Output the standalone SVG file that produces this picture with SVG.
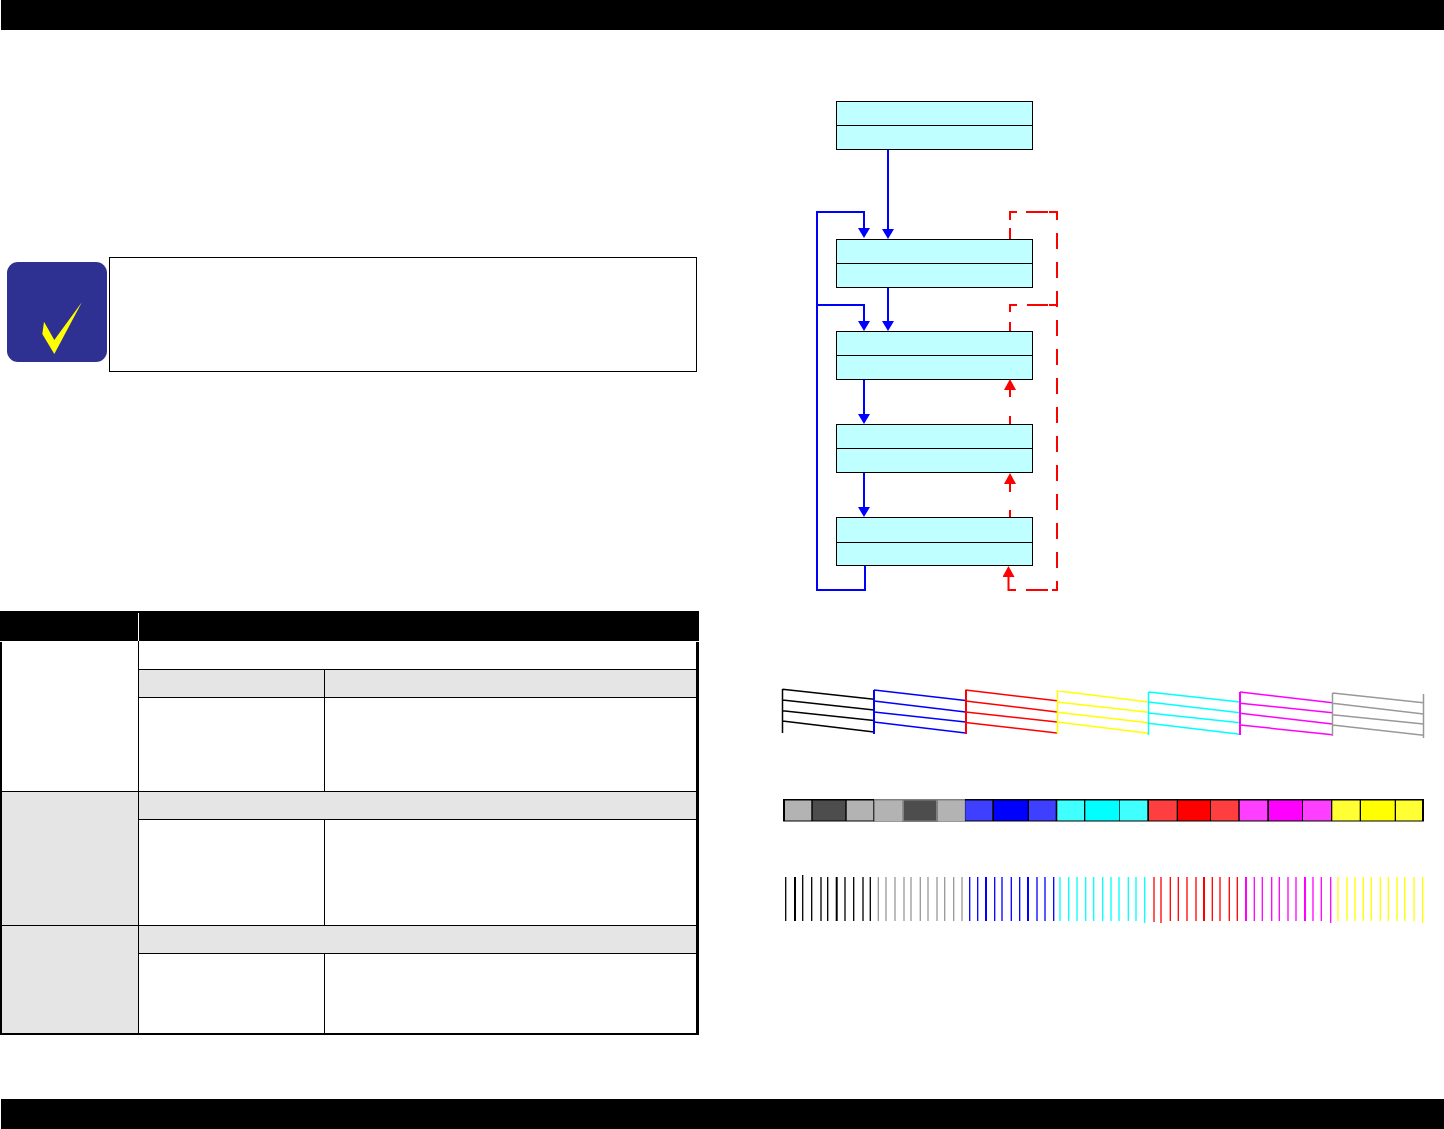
<svg xmlns="http://www.w3.org/2000/svg" width="1444" height="1129" viewBox="0 0 1444 1129">
<style>
.box{fill:#bfffff;stroke:#000;stroke-width:1}
.blue{fill:none;stroke:#00f;stroke-width:2}
.red{fill:none;stroke:#f00;stroke-width:2}
.grid{fill:none;stroke:#000;stroke-width:1}
.gray{fill:#e5e5e5}
.nz{fill:none;stroke-width:1.5}
.bar{fill:none;stroke-width:1.3}
.barw{fill:none;stroke-width:2}
</style>
<defs>
<marker id="ab" markerUnits="userSpaceOnUse" markerWidth="10" markerHeight="12" viewBox="0 0 10 12" refX="0" refY="6" orient="auto"><path d="M0 0L10 6L0 12Z" fill="#00f"/></marker>
<marker id="ar" markerUnits="userSpaceOnUse" markerWidth="11" markerHeight="12" viewBox="0 0 11 12" refX="0" refY="6" orient="auto"><path d="M0 0L11 6L0 12Z" fill="#f00"/></marker>
</defs>
<rect width="1444" height="1129" fill="#fff"/>
<rect x="1" y="0" width="1443" height="30" fill="#000"/>
<rect x="1" y="1099" width="1443" height="30" fill="#000"/>

<g id="note">
<rect x="7" y="262" width="100" height="100" rx="11" fill="#2e3192"/>
<path d="M44 321.7L42.3 334L54.3 354L82 302L54.3 340Z" fill="#ff0"/>
<rect x="109.5" y="257.5" width="587" height="114" fill="#fff" stroke="#000"/>
</g>

<g id="table">
<rect x="139" y="670" width="557" height="27" class="gray"/>
<rect x="2" y="792" width="136" height="133" class="gray"/>
<rect x="139" y="792" width="557" height="27" class="gray"/>
<rect x="2" y="926" width="136" height="107" class="gray"/>
<rect x="139" y="926" width="557" height="27" class="gray"/>
<rect x="0" y="611" width="699" height="30" fill="#000"/>
<path d="M138.5 613V641" stroke="#fff" stroke-width="1"/>
<path class="grid" d="M138.5 641V1033M324.5 670V791M324.5 820V925M324.5 954V1033M139 669.5H696M139 697.5H696M2 791.5H696M139 819.5H696M2 925.5H696M139 953.5H696"/>
<rect x="0" y="642" width="2" height="392" fill="#000"/>
<rect x="696" y="642" width="3" height="393" fill="#000"/>
<rect x="0" y="1033" width="699" height="2" fill="#000"/>
</g>

<g id="node1"><rect class="box" x="836.5" y="101.5" width="196" height="48"/><path class="grid" d="M836.5 125.5H1032.5"/></g>
<g id="node2"><rect class="box" x="836.5" y="239.5" width="196" height="48"/><path class="grid" d="M836.5 263.5H1032.5"/></g>
<g id="node3"><rect class="box" x="836.5" y="331.5" width="196" height="48"/><path class="grid" d="M836.5 355.5H1032.5"/></g>
<g id="node4"><rect class="box" x="836.5" y="424.5" width="196" height="48"/><path class="grid" d="M836.5 448.5H1032.5"/></g>
<g id="node5"><rect class="box" x="836.5" y="517.5" width="196" height="48"/><path class="grid" d="M836.5 542.5H1032.5"/></g>

<g id="connectors">
<path class="blue" d="M888 150V229" marker-end="url(#ab)"/>
<path class="blue" d="M888 288V321" marker-end="url(#ab)"/>
<path class="blue" d="M864 380V414" marker-end="url(#ab)"/>
<path class="blue" d="M864 473V507" marker-end="url(#ab)"/>
<path class="blue" d="M865 566V590H817V212H864V228" marker-end="url(#ab)"/>
<path class="blue" d="M817 305H864V321" marker-end="url(#ab)"/>
<path class="red" stroke-dasharray="16 13" stroke-dashoffset="8" d="M1057 212V590"/>
<path class="red" d="M1010 239V228M1010 220V212H1017M1026 212H1048M1049 212H1058M1017 305H1010V312M1027 305H1048M1049 305H1058M1010 331V322"/>
<path class="red" d="M1010 424V416M1010 397V390" marker-end="url(#ar)"/>
<path class="red" d="M1010 517V510M1010 492V484" marker-end="url(#ar)"/>
<path class="red" d="M1026 590H1048M1052 590H1058M1016 590H1008.5V577" marker-end="url(#ar)"/>
</g>

<g id="nozzle-lines">
<path class="nz" stroke="#000" d="M782.5 689V733M782.5 689.3L874 699.3M782.5 700L874 710M782.5 710.7L874 720.5M782.5 721L874 732"/>
<path class="nz" stroke="#00f" d="M874 690L965.5 700.5M874 701L965.5 712M874 712L965.5 722M874 722L965.5 733"/>
<path fill="none" stroke="#00f" stroke-width="2" d="M874 690V734"/>
<path class="nz" stroke="#f00" d="M965.5 690L1057 700.7M965.5 701L1057 712M965.5 712L1057 722M965.5 722.5L1057 733"/>
<path fill="none" stroke="#f00" stroke-width="2" d="M966 690V734"/>
<path class="nz" stroke="#ff0" d="M1057.5 690V734M1057 690.7L1148.5 702M1057 702L1148.5 712.3M1057 712.3L1148.5 722.7M1057 722L1148.5 733.3"/>
<path class="nz" stroke="#0ff" d="M1148.5 692V735M1148.5 692L1240 702M1148.5 702L1240 712.7M1148.5 713L1240 722.7M1148.5 723.3L1240 734.3"/>
<path class="nz" stroke="#f0f" d="M1240 692L1332.5 702.7M1240 703.3L1332.5 712.7M1240 713.3L1332.5 724M1240 725L1332.5 734.7"/>
<path fill="none" stroke="#f0f" stroke-width="2" d="M1240 692V735"/>
<path class="nz" stroke="#999" d="M1332.5 693V736M1423.5 694V738M1332.5 693L1423.5 702.7M1332.5 703.3L1423.5 714M1332.5 714.7L1423.5 724M1332.5 725L1423.5 735.3"/>
</g>

<g id="colour-bar">
<rect x="783" y="799" width="641" height="22" fill="#000"/>
<rect x="874" y="799" width="91" height="23" fill="#808080"/>
<rect x="783" y="821" width="641" height="1" fill="#808080"/>
<g fill="#b3b3b3"><rect x="785" y="800.5" width="26.3" height="20"/><rect x="846.7" y="800.5" width="26.6" height="20"/><rect x="875" y="800.5" width="27.3" height="21"/><rect x="938" y="800.5" width="26.7" height="21"/></g>
<g fill="#4d4d4d"><rect x="812.7" y="800.5" width="32.6" height="20"/><rect x="904" y="800.5" width="32" height="20"/></g>
<g fill="#3f3fff"><rect x="965.3" y="800.5" width="27" height="20"/><rect x="1029" y="800.5" width="26.7" height="20"/></g>
<rect x="994" y="800.5" width="33.7" height="20" fill="#00f"/>
<g fill="#3fffff"><rect x="1057.3" y="800.5" width="26.7" height="20"/><rect x="1120" y="800.5" width="27.3" height="20"/></g>
<rect x="1085.3" y="800.5" width="34" height="20" fill="#0ff"/>
<g fill="#ff3f3f"><rect x="1149" y="800.5" width="27.7" height="20"/><rect x="1211" y="800.5" width="27.3" height="20"/></g>
<rect x="1178" y="800.5" width="32" height="20" fill="#f00"/>
<g fill="#ff3fff"><rect x="1239.7" y="800.5" width="27.6" height="20"/><rect x="1303" y="800.5" width="28" height="20"/></g>
<rect x="1269" y="800.5" width="33" height="20" fill="#f0f"/>
<g fill="#ff3"><rect x="1332.3" y="800.5" width="27.4" height="20"/><rect x="1396" y="800.5" width="26" height="20"/></g>
<rect x="1361" y="800.5" width="33.7" height="20" fill="#ff0"/>
</g>

<g id="vertical-lines">
<path class="bar" stroke="#000" d="M785.7 877V921M802.7 875V921M811.7 877V921M821 877V921M827.7 877V921M845 877V921M853.7 877V921M863 877V921M870.3 877V921"/>
<path class="barw" stroke="#000" d="M795 877V921M836.7 877V921"/>
<path class="bar" stroke="#999" d="M878.3 877V921M886 877V921M895 877V921M904 877V921M911 877V921M920.3 877V921M928 877V921M937 877V921M944.7 877V921M953.7 877V921M962 877V921"/>
<path class="bar" stroke="#00f" d="M969.7 877V921M977.7 877V921M994.7 877V921M1002 877V921M1011.3 877V921M1019.7 877V921M1037 877V921M1045 877V921M1053.7 877V921"/>
<path class="barw" stroke="#00f" d="M986 877V921M1028 877V921"/>
<path class="bar" stroke="#0ff" d="M1060 877V921M1068.7 877V921M1077 877V921M1085.7 877V921M1093.7 877V921M1102.7 877V921M1111 877V921M1119 877V921M1128.3 877V921M1136 877V921M1144.7 877V923"/>
<path class="bar" stroke="#f00" d="M1154 877V922M1161 877V923M1170.3 877V921M1178.3 877V921M1187 877V921M1196 877V921M1212.3 877V921M1220 877V921M1229.3 877V921M1237.3 877V921"/>
<path class="barw" stroke="#f00" d="M1204 877V921"/>
<path class="bar" stroke="#f0f" d="M1254.3 877V921M1262.3 877V921M1271.7 877V921M1279.3 877V921M1288 877V921M1296 877V921M1313 877V921M1321.3 877V921M1330.7 877V923"/>
<path class="barw" stroke="#f0f" d="M1246 877V921M1305 877V921"/>
<path class="bar" stroke="#ff0" d="M1338 877V921M1347 877V921M1355 877V921M1363.3 877V921M1371.3 877V921M1380.3 877V921M1388.3 877V921M1397 877V921M1404.7 877V921M1414 877V921M1422.7 877V923"/>
</g>
</svg>
